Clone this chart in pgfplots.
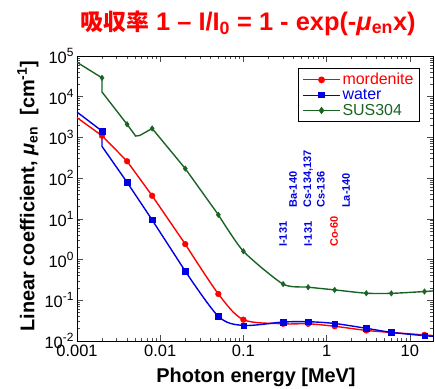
\documentclass[border=0pt]{standalone}
\usepackage{fontspec}
\setmainfont{Liberation Sans}
\newfontfamily\jp{Noto Sans CJK JP Bold}
\usepackage{pgfplots}
\pgfplotsset{compat=1.18}
\definecolor{cred}{RGB}{255,0,0}
\definecolor{cblue}{RGB}{0,0,225}
\definecolor{cgreen}{RGB}{25,100,35}
\newcommand{\tl}[1]{10\raisebox{0.8ex}{\fontsize{12}{12}\selectfont #1}}
\begin{document}
\begin{tikzpicture}
\useasboundingbox (-77bp,-48bp) rectangle (358bp,341bp);
\begin{axis}[
  at={(0,0)}, anchor=south west,
  scale only axis, width=356bp, height=285bp,
  xmode=log, ymode=log,
  xmin=0.001, xmax=19, ymin=1e-2, ymax=1e5,
  xtick={0.001,0.01,0.1,1,10}, xticklabels={0.001,0.01,0.1,1,10},
  ytick={1e-2,1e-1,1,10,100,1000,1e4,1e5},
  yticklabels={\tl{-2},\tl{-1},\tl{0},\tl{1},\tl{2},\tl{3},\tl{4},\tl{5}},
  ticklabel style={font=\fontsize{16.5}{17}\selectfont},
  xticklabel style={yshift=-1bp},
  major tick length=6bp, minor tick length=3.5bp,
  axis line style={black, line width=0.8pt},
  tick style={black!70, line width=0.6pt},
  legend cell align=left,
  legend style={at={(0.963,0.958)}, anchor=north east, draw=black, line width=0.8pt,
    font=\fontsize{16}{17}\selectfont, inner xsep=4bp, inner ysep=3bp, row sep=-1bp},
  legend image code/.code={\draw[mark repeat=2,mark phase=2] plot coordinates {(0cm,0cm)(0.65cm,0cm)(1.3cm,0cm)};},
]
\addlegendimage{cred, line width=1.2pt, mark=*, mark size=2.8pt}
\addlegendentry{\textcolor{cred}{mordenite}}
\addlegendimage{cblue, line width=1.2pt, mark=square*, mark size=2.6pt}
\addlegendentry{\textcolor{cblue}{water}}
\addlegendimage{cgreen, line width=1.2pt, mark=diamond*, mark size=2.8pt}
\addlegendentry{\textcolor{cgreen}{SUS304}}

% mordenite
\addplot[cred, line width=1.4pt, no marks, forget plot] coordinates {
(0.001,3070) (0.002,1100) (0.004,260) (0.008,37) (0.02,2.4)};
\addplot[cred, line width=1.4pt, no marks, smooth, tension=0.5, forget plot] coordinates {
(0.02,2.4) (0.05,0.143) (0.1,0.0334) (0.3,0.0265) (0.6,0.0265) (1.25,0.023) (3,0.0182) (6,0.0162) (15,0.0141) (19,0.0136)};
\addplot[cred, only marks, mark=*, mark size=2.9pt, forget plot] coordinates {
(0.002,1100) (0.004,260) (0.008,37) (0.02,2.4) (0.05,0.143) (0.1,0.0334) (0.3,0.0265) (0.6,0.0265) (1.25,0.023) (3,0.0182) (6,0.0162) (15,0.0141)};

% water
\addplot[cblue, line width=1.4pt, no marks, forget plot] coordinates {
(0.001,4200) (0.002,1430) (0.002,600) (0.004,79) (0.008,9.4) (0.02,0.52)};
\addplot[cblue, line width=1.4pt, no marks, smooth, tension=0.5, forget plot] coordinates {
(0.02,0.52) (0.05,0.0403) (0.1,0.0241) (0.3,0.0292) (0.6,0.0298) (1.25,0.0269) (3,0.0205) (6,0.0163) (15,0.0135) (19,0.0131)};
\addplot[cblue, only marks, mark=square*, mark size=2.7pt, forget plot] coordinates {
(0.002,1430) (0.004,79) (0.008,9.4) (0.02,0.52) (0.05,0.0403) (0.1,0.0241) (0.3,0.0292) (0.6,0.0298) (1.25,0.0269) (3,0.0205) (6,0.0163) (15,0.0135)};

% SUS304
\addplot[cgreen, line width=1.4pt, no marks, forget plot] coordinates {
(0.001,70000) (0.002,29000) (0.002,13000) (0.004,2100) (0.00507,1080) (0.0057,1120) (0.008,1660) (0.02,172) (0.05,12.6)};
\addplot[cgreen, line width=1.4pt, no marks, smooth, tension=0.4, forget plot] coordinates {
(0.05,12.6) (0.1,1.6) (0.3,0.25) (0.6,0.21) (1.25,0.18) (3,0.149) (6,0.148) (15,0.164) (19,0.17)};
\addplot[cgreen, only marks, mark=diamond*, mark size=2.8pt, forget plot] coordinates {
(0.002,29000) (0.004,2100) (0.008,1660) (0.02,172) (0.05,12.6) (0.1,1.6) (0.3,0.25) (0.6,0.21) (1.25,0.18) (3,0.149) (6,0.148) (15,0.164)};

\begin{scope}[every node/.style={rotate=90, anchor=west, font=\fontsize{11}{11}\selectfont\bfseries, inner sep=0pt}]
\node[text=cblue] at (rel axis cs:0.579,0.33) {I-131};
\node[text=cblue] at (rel axis cs:0.607,0.467) {Ba-140};
\node[text=cblue] at (rel axis cs:0.649,0.467) {Cs-134,137};
\node[text=cblue] at (rel axis cs:0.649,0.33) {I-131};
\node[text=cblue] at (rel axis cs:0.685,0.467) {Cs-136};
\node[text=cred] at (rel axis cs:0.722,0.33) {Co-60};
\node[text=cblue] at (rel axis cs:0.756,0.467) {La-140};
\end{scope}
\end{axis}
\node[font=\fontsize{25.5}{25}\selectfont\bfseries, text=cred] at (171bp,318bp)
  {{\jp\fontsize{23}{23}\selectfont 吸収率} 1 – I/I\textsubscript{0} = 1 - exp(-{\itshape μ}\textsubscript{en}x)};
\node[font=\fontsize{20}{20}\selectfont\bfseries, rotate=90] at (-49bp,145bp)
  {Linear coefficient, {\itshape μ}\textsubscript{en}\ \ [cm\textsuperscript{-1}]};
\node[font=\fontsize{20}{20}\selectfont\bfseries] at (179bp,-36bp) {Photon energy [MeV]};
\end{tikzpicture}
\end{document}
